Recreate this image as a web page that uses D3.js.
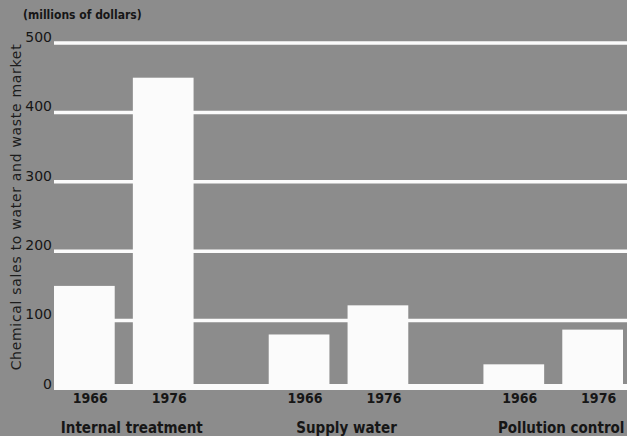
<!DOCTYPE html>
<html>
<head>
<meta charset="utf-8">
<script src="https://cdn.jsdelivr.net/npm/d3@7"></script>
<style>
  html, body { margin: 0; padding: 0; background: #8c8c8c; }
  svg { display: block; }
</style>
</head>
<body>
<svg id="chart" width="627" height="436"></svg>
<script>
// Chemical sales to the water and waste market, millions of dollars
const groups = ["Internal treatment", "Supply water", "Pollution control"];
const years = ["1966", "1976"];
const internalTreatment = [150, 450];
const supplyWater = [80, 122];
const pollutionControl = [37, 87];
const yTicks = [0, 100, 200, 300, 400, 500];

const seriesByGroup = [internalTreatment, supplyWater, pollutionControl];
const rows = [];
groups.forEach((g, gi) => years.forEach((yr, yi) => rows.push({ group: g, year: yr, value: seriesByGroup[gi][yi] })));

const W = 627, H = 436;
const left = 54, right = 623;
const svg = d3.select("#chart");

svg.append("rect").attr("width", W).attr("height", H).attr("fill", "#8c8c8c");

const y = d3.scaleLinear().domain([0, 500]).range([390, 43]);
const x0 = d3.scaleBand().domain(groups).range([left, right]).paddingInner(0.35).paddingOuter(0);
const x1 = d3.scaleBand().domain(years).range([0, x0.bandwidth()]).paddingInner(0.23).paddingOuter(0);

const ink = "#161616";

// horizontal grid lines
svg.append("g").selectAll("line").data(yTicks.filter(d => d > 0)).join("line")
  .attr("x1", left).attr("x2", W)
  .attr("y1", d => y(d)).attr("y2", d => y(d))
  .attr("stroke", "#fbfbfb").attr("stroke-width", 3.5);

// bars
svg.append("g").selectAll("rect").data(rows).join("rect")
  .attr("x", d => x0(d.group) + x1(d.year))
  .attr("width", x1.bandwidth())
  .attr("y", d => y(d.value))
  .attr("height", d => y(0) - y(d.value))
  .attr("fill", "#fbfbfb");

// baseline
svg.append("rect")
  .attr("x", left).attr("width", W - left)
  .attr("y", y(0) - 6).attr("height", 6)
  .attr("fill", "#fbfbfb");

// y axis labels
const yAxis = d3.axisLeft(y).tickValues(yTicks).tickSize(0).tickPadding(2);
const gy = svg.append("g").attr("transform", `translate(${left},0)`).call(yAxis);
gy.select(".domain").remove();
gy.selectAll("text")
  .attr("dy", "-0.12em")
  .attr("fill", ink)
  .style("font-family", "'DejaVu Sans', sans-serif")
  .style("font-size", "14px");

// year labels under each bar
svg.append("g").selectAll("text").data(rows).join("text")
  .attr("x", d => x0(d.group) + x1(d.year) + x1.bandwidth() / 2 + 6)
  .attr("y", 403)
  .attr("text-anchor", "middle")
  .attr("fill", ink)
  .style("font-family", "'DejaVu Sans Condensed', 'DejaVu Sans', sans-serif")
  .style("font-weight", "bold")
  .style("font-size", "14px")
  .text(d => d.year);

// group labels
svg.append("g").selectAll("text").data(groups).join("text")
  .attr("x", d => x0(d) + x0.bandwidth() / 2 + 8)
  .attr("y", 433)
  .attr("text-anchor", "middle")
  .attr("fill", ink)
  .style("font-family", "'DejaVu Sans Condensed', 'DejaVu Sans', sans-serif")
  .style("font-weight", "bold")
  .style("font-size", "15px")
  .text(d => d);

// unit note
svg.append("text")
  .attr("x", 23).attr("y", 19)
  .attr("fill", ink)
  .style("font-family", "'DejaVu Sans Condensed', 'DejaVu Sans', sans-serif")
  .style("font-weight", "bold")
  .style("font-size", "12px")
  .text("(millions of dollars)");

// y axis title
svg.append("text")
  .attr("transform", "translate(21,207) rotate(-90)")
  .attr("text-anchor", "middle")
  .attr("fill", "#1c1c1c")
  .style("font-family", "'DejaVu Sans', sans-serif")
  .style("font-size", "14px")
  .style("letter-spacing", "0.7px")
  .text("Chemical sales to water and waste market");
</script>
</body>
</html>
